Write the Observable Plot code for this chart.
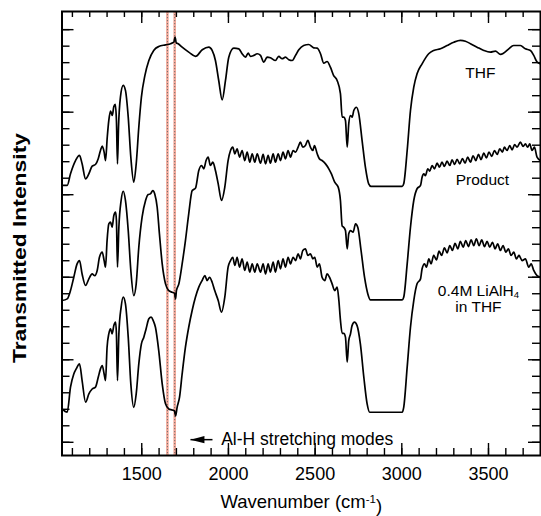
<!DOCTYPE html>
<html><head><meta charset="utf-8">
<script src="https://cdn.jsdelivr.net/npm/d3@7"></script>
<script src="https://cdn.jsdelivr.net/npm/@observablehq/plot@0.6"></script>
<style>html,body{margin:0;padding:0;background:#fff}</style>
</head><body><div id="chart"></div>
<script>
// ---- data ----
const seriesNames = ["THF", "Product", "0.4M LiAlH4 in THF"];

const thfWavenumber = [1040,1070,1089,1118,1141,1156,1176,1195,1214,1233,1249,1262,1272,1283,1291,1301,1310,1320,1330,1339,1347,1354,1360,1366,1377,1393,1406,1422,1437,1454,1468,1483,1498,1518,1541,1569,1598,1637,1666,1685,1692,1699,1710,1733,1771,1810,1849,1887,1906,1925,1944,1964,1983,2002,2031,2060,2079,2098,2114,2127,2146,2166,2185,2204,2223,2242,2271,2290,2310,2329,2348,2368,2387,2406,2434,2463,2492,2512,2531,2550,2569,2588,2607,2627,2646,2656,2665,2675,2685,2694,2704,2714,2723,2738,2752,2771,2790,2809,2823,3002,3011,3031,3050,3069,3088,3117,3155,3184,3223,3261,3300,3338,3367,3396,3434,3473,3511,3540,3569,3588,3617,3645,3684,3713,3742,3761,3781,3800];
const thfIntensity = [15.56,15.56,16.27,17.07,17.38,16.87,15.96,16.27,16.73,16.83,17.18,17.68,17.94,17.58,17.07,18.48,19.5,20.06,19.8,20.35,20.47,19.5,16.87,19.09,20.91,21.62,21.32,19.7,17.27,15.76,16.87,19.09,20.91,22.22,23.13,23.74,23.98,24.08,24.15,24.24,24.55,24.2,24.15,23.94,23.64,23.38,23.78,23.94,23.74,23.13,21.92,20.75,21.92,23.33,23.88,23.84,23.54,23.33,23.58,23.38,23.44,23.54,23.44,23.03,23.33,23.3,23.13,23.38,23.24,23.33,23.18,23.13,23.44,23.78,24.04,24.1,23.9,23.88,23.54,22.97,23.07,22.73,22.22,21.92,21.12,19.7,19.7,19.5,17.88,19.3,19.8,19.7,20.1,20.3,19.9,18.28,16.67,15.66,15.5,15.5,15.66,17.68,20.1,21.52,22.33,22.93,23.54,23.74,23.84,24.04,24.24,24.35,24.3,24.15,23.94,23.74,23.64,23.7,23.5,23.58,23.84,24.04,24.04,23.84,23.74,23.44,23.03,22.93];

const productWavenumber = [1040,1070,1089,1108,1127,1141,1156,1176,1195,1214,1229,1243,1256,1272,1283,1291,1300,1310,1320,1329,1339,1349,1354,1360,1368,1381,1393,1406,1422,1437,1454,1468,1483,1502,1522,1537,1550,1564,1575,1589,1602,1618,1637,1656,1675,1689,1695,1700,1714,1733,1752,1771,1791,1810,1829,1845,1858,1871,1883,1896,1910,1925,1941,1960,1979,1998,2012,2025,2037,2050,2064,2079,2094,2108,2123,2137,2152,2166,2185,2200,2214,2229,2242,2258,2271,2287,2300,2315,2329,2344,2358,2373,2387,2402,2415,2429,2444,2458,2473,2487,2496,2512,2525,2540,2560,2579,2594,2613,2633,2646,2656,2665,2675,2685,2694,2704,2719,2733,2746,2765,2785,2804,2819,3002,3011,3031,3050,3069,3088,3108,3117,3127,3136,3150,3161,3175,3188,3204,3217,3232,3246,3261,3277,3290,3305,3319,3334,3350,3365,3380,3396,3411,3427,3442,3457,3473,3488,3503,3519,3534,3550,3565,3580,3592,3607,3623,3636,3651,3665,3684,3700,3713,3726,3738,3751,3765,3780,3800];
const productIntensity = [8.59,8.69,9.19,10.0,10.81,11.01,10.2,9.5,9.9,10.2,10.1,10.41,11.21,11.52,11.01,10.61,12.22,13.23,13.34,13.03,13.74,13.94,13.44,10.61,13.03,14.65,15.21,14.65,12.83,10.41,8.89,9.6,11.82,13.64,14.65,15.01,15.05,15.25,15.05,14.24,12.63,10.81,9.6,9.19,9.09,9.03,8.69,9.19,9.6,10.81,12.22,13.84,15.25,15.4,16.47,16.77,16.57,17.07,17.28,16.77,16.97,16.47,15.66,14.65,15.46,17.07,17.68,17.88,17.48,17.78,17.28,17.68,17.07,17.58,16.97,17.48,16.97,17.48,16.91,17.44,16.87,17.38,16.91,17.48,16.97,17.48,17.07,17.58,17.17,17.68,17.28,17.68,17.58,17.88,18.18,17.88,17.98,18.29,17.88,17.68,17.98,17.48,17.17,17.07,16.87,16.57,16.26,15.76,15.46,14.65,13.1,13.03,12.83,11.72,12.63,12.83,12.73,13.23,13.03,11.62,10.0,8.99,8.63,8.63,8.79,10.81,13.03,14.65,15.36,15.56,16.06,16.26,16.16,16.57,16.43,16.77,16.57,16.91,16.67,16.97,16.71,17.03,16.77,17.11,16.83,17.15,16.87,17.19,16.91,17.28,16.97,17.36,17.07,17.44,17.13,17.52,17.23,17.58,17.32,17.68,17.44,17.78,17.58,17.88,17.68,17.98,17.72,18.04,17.88,18.18,17.92,18.08,17.88,18.08,17.68,17.88,17.28,17.07];

const lialh4Wavenumber = [1040,1070,1089,1108,1122,1141,1156,1176,1195,1214,1233,1249,1262,1272,1283,1291,1300,1310,1320,1329,1339,1349,1354,1360,1368,1381,1393,1406,1422,1437,1454,1468,1483,1498,1512,1525,1541,1554,1566,1579,1598,1618,1637,1656,1675,1689,1695,1704,1718,1733,1752,1771,1791,1810,1829,1848,1864,1877,1891,1906,1921,1941,1960,1979,1998,2012,2025,2037,2050,2064,2079,2094,2108,2123,2137,2152,2166,2185,2200,2214,2229,2242,2258,2271,2287,2300,2315,2329,2344,2358,2373,2387,2402,2415,2429,2444,2458,2473,2487,2498,2512,2525,2540,2556,2569,2583,2598,2613,2627,2637,2646,2656,2665,2675,2685,2694,2704,2713,2727,2742,2761,2781,2800,2815,3002,3011,3031,3050,3069,3088,3108,3117,3131,3142,3156,3169,3184,3200,3215,3230,3246,3261,3277,3292,3307,3323,3338,3354,3369,3384,3400,3415,3430,3446,3461,3477,3492,3507,3523,3538,3553,3569,3584,3600,3615,3630,3646,3661,3676,3694,3713,3732,3746,3761,3780,3800];
const lialh4Intensity = [2.02,1.82,3.34,4.14,4.45,4.75,3.74,2.43,2.93,3.23,3.34,3.94,4.45,4.65,4.14,3.74,5.76,6.57,6.87,6.57,7.07,7.28,6.57,3.74,6.57,8.18,8.79,8.39,6.37,3.54,2.12,2.93,4.75,5.96,6.37,6.87,7.48,7.58,7.38,6.97,5.56,3.54,2.33,2.02,1.96,1.9,1.6,2.12,2.73,4.14,5.76,6.97,8.0,8.8,9.4,9.8,10.1,9.8,10.0,9.7,9.19,8.59,7.88,8.79,10.61,11.01,11.21,10.71,11.21,10.61,11.11,10.41,10.91,10.31,10.81,10.31,10.81,10.31,10.81,10.2,10.81,10.31,10.91,10.31,11.01,10.51,11.11,10.61,11.21,10.81,11.21,11.01,11.42,11.11,11.62,11.72,11.32,11.42,11.11,11.21,10.61,10.81,10.0,9.8,10.2,10.0,9.6,9.19,9.4,8.59,7.4,6.6,6.6,6.37,4.85,6.16,6.57,7.07,7.28,7.07,5.96,3.94,2.33,1.82,1.82,2.12,4.55,6.97,8.59,9.6,9.9,10.51,10.81,10.61,11.11,10.81,11.32,11.05,11.58,11.32,11.78,11.48,11.92,11.62,12.06,11.72,12.18,11.82,12.22,11.86,12.26,11.92,12.33,11.92,12.26,11.86,12.18,11.82,12.12,11.72,12.02,11.62,11.92,11.52,11.72,11.32,11.52,11.11,11.32,11.01,11.11,10.61,10.81,10.41,10.1,10.0];

const alhModes = [1648, 1690];               // Al-H stretching mode markers (cm-1)
const xMajorTicks = [1500, 2000, 2500, 3000, 3500];
const xMinorTicks = d3.range(1100, 3800, 100);
const yMajorTicks = [0, 5, 10, 15, 20, 25];
const yMinorTicks = d3.range(0, 26, 1);

// annotations (positions in data units)
const seriesLabels = [
  {w: 3453, v: 22.4, text: "THF"},
  {w: 3465, v: 15.86, text: "Product"},
  {w: 3442, v: 9.19, text: "0.4M LiAlH4"},
  {w: 3442, v: 8.22, text: "in THF"}
];
const arrowNote = {tip: 1781, tail: 1908, v: 0.16, textW: 1958, text: "Al-H stretching modes"};

// ---- build ----
const rows = [
  ...thfWavenumber.map((w, i) => ({series: seriesNames[0], w, v: thfIntensity[i]})),
  ...productWavenumber.map((w, i) => ({series: seriesNames[1], w, v: productIntensity[i]})),
  ...lialh4Wavenumber.map((w, i) => ({series: seriesNames[2], w, v: lialh4Intensity[i]}))
];

const W = 541, H = 516;
const mL = 61.5, mR = 1, mT = 11, mB = 61;
const xDomain = [1040, 3800], yDomain = [-0.8, 26.1];
const pxX = (W - mL - mR) / (xDomain[1] - xDomain[0]);
const pxY = (H - mT - mB) / (yDomain[1] - yDomain[0]);
const tk = (len) => len / pxY;  // vertical tick length in data units
const tkx = (len) => len / pxX; // horizontal tick length in data units

const leftTri = {draw(ctx) { ctx.moveTo(-7, 0); ctx.lineTo(7, -3.6); ctx.lineTo(7, 3.6); ctx.closePath(); }};

const chart = Plot.plot({
  width: W, height: H,
  marginLeft: mL, marginRight: mR, marginTop: mT, marginBottom: mB,
  style: {fontFamily: "'Liberation Sans', Arial, Helvetica, sans-serif", background: "#fff", color: "#000"},
  x: {domain: xDomain, axis: null},
  y: {domain: yDomain, axis: null},
  marks: [
    // Al-H markers
    Plot.ruleX(alhModes, {x: d => d, stroke: "#f39a88", strokeWidth: 2.6, strokeOpacity: 0.85}),
    Plot.ruleX(alhModes, {x: d => d, stroke: "#666", strokeWidth: 0.9, strokeDasharray: "1.2,1.8"}),
    // spectra
    Plot.line(rows, {x: "w", y: "v", z: "series", stroke: "#000", strokeWidth: 1.7, curve: "monotone-x"}),
    // frame and inward ticks
    Plot.frame({stroke: "#000", strokeWidth: 2}),
    Plot.ruleX(xMinorTicks, {x: d => d, y1: yDomain[0], y2: yDomain[0] + tk(7), strokeWidth: 1.4}),
    Plot.ruleX(xMajorTicks, {x: d => d, y1: yDomain[0], y2: yDomain[0] + tk(12), strokeWidth: 1.4}),
    Plot.ruleX(xMinorTicks, {x: d => d, y1: yDomain[1], y2: yDomain[1] - tk(6), strokeWidth: 1.4}),
    Plot.ruleX(xMajorTicks, {x: d => d, y1: yDomain[1], y2: yDomain[1] - tk(12), strokeWidth: 1.4}),
    Plot.ruleY(yMinorTicks, {y: d => d, x1: xDomain[0], x2: xDomain[0] + tkx(8), strokeWidth: 1.4}),
    Plot.ruleY(yMajorTicks, {y: d => d, x1: xDomain[0], x2: xDomain[0] + tkx(12), strokeWidth: 1.4}),
    Plot.ruleY(yMinorTicks, {y: d => d, x1: xDomain[1], x2: xDomain[1] - tkx(8), strokeWidth: 1.4}),
    Plot.ruleY(yMajorTicks, {y: d => d, x1: xDomain[1], x2: xDomain[1] - tkx(12), strokeWidth: 1.4}),
    // tick labels and axis titles
    Plot.text(xMajorTicks, {x: d => d, frameAnchor: "bottom", lineAnchor: "middle", dy: 18.5, text: d => String(d), fontSize: 18, fill: "#000"}),
    Plot.text(["Wavenumber (cm-1)"], {frameAnchor: "bottom", lineAnchor: "middle", textAnchor: "middle", dy: 47, fontSize: 18.5, fill: "#000"}),
    Plot.text(["Transmitted Intensity"], {frameAnchor: "left", textAnchor: "middle", lineAnchor: "middle", dx: -41.5, dy: 14.5, rotate: -90, fontSize: 18, fontWeight: "bold", fill: "#000"}),
    // series labels
    Plot.text(seriesLabels, {x: "w", y: "v", text: "text", fontSize: 15.5, fill: "#000"}),
    // arrow annotation
    Plot.link([arrowNote], {x1: "tip", x2: "tail", y1: "v", y2: "v", stroke: "#000", strokeWidth: 1.5}),
    Plot.dot([arrowNote], {x: d => d.tip + tkx(7), y: "v", symbol: leftTri, fill: "#000", stroke: "none", r: 5}),
    Plot.text([arrowNote], {x: "textW", y: "v", text: "text", textAnchor: "start", fontSize: 17.5, fill: "#000"})
  ]
});

// sub/superscripts and label stretching
d3.select(chart).selectAll("text").each(function() {
  const t = d3.select(this);
  const s = this.textContent;
  if (s === "0.4M LiAlH4") {
    t.text("0.4M LiAlH");
    t.append("tspan").attr("dy", "0.3em").attr("font-size", "0.62em").text("4");
  } else if (s === "Wavenumber (cm-1)") {
    t.text("Wavenumber (cm");
    t.append("tspan").attr("dy", "-0.45em").attr("font-size", "0.62em").text("-1");
    t.append("tspan").attr("dy", "0.45em").text(")");
  } else if (s === "Transmitted Intensity") {
    t.attr("textLength", 230).attr("lengthAdjust", "spacingAndGlyphs");
  }
});

document.getElementById("chart").appendChild(chart);
</script>
</body></html>
